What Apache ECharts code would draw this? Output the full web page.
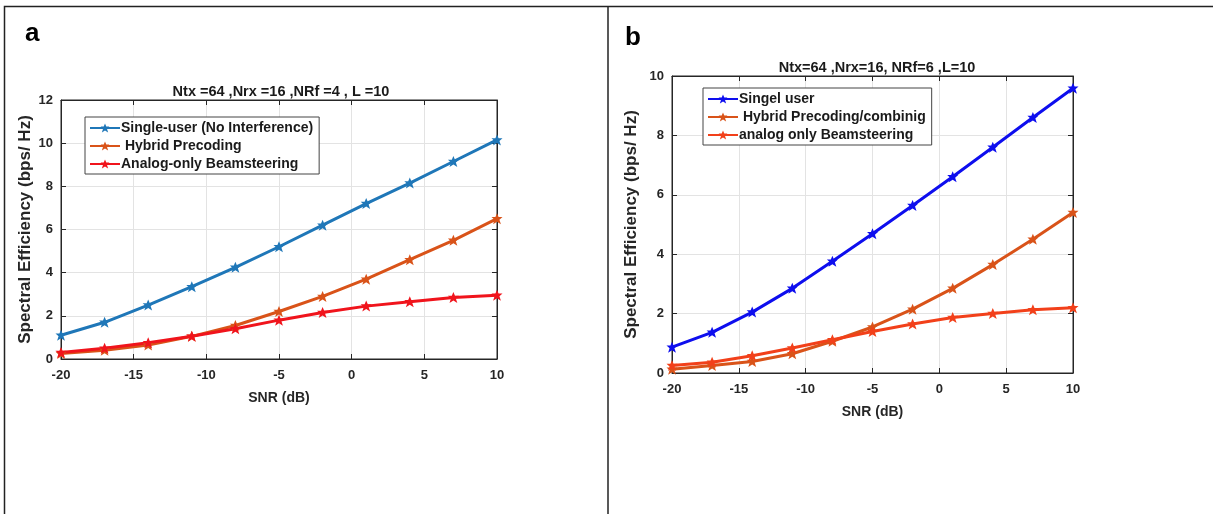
<!DOCTYPE html>
<html>
<head>
<meta charset="utf-8">
<script src="https://cdn.jsdelivr.net/npm/echarts@6/dist/echarts.min.js"></script>
<style>
  html, body { margin: 0; padding: 0; background: #fff; }
  #chart { width: 1213px; height: 514px; }
</style>
</head>
<body>
<div id="chart"></div>
<script>
// SNR points (dB)
const snr = [-20, -17, -14, -11, -8, -5, -2, 1, 4, 7, 10];

// panel a: Ntx=64, Nrx=16, NRf=4, L=10
const singleA = [1.1, 1.7, 2.5, 3.35, 4.25, 5.2, 6.2, 7.2, 8.15, 9.15, 10.15];
const hybridA = [0.25, 0.4, 0.65, 1.05, 1.55, 2.2, 2.9, 3.7, 4.6, 5.5, 6.5];
const analogA = [0.3, 0.5, 0.75, 1.05, 1.4, 1.8, 2.15, 2.45, 2.65, 2.85, 2.95];

// panel b: Ntx=64, Nrx=16, NRf=6, L=10
const singleB = [0.87, 1.37, 2.05, 2.85, 3.76, 4.69, 5.64, 6.61, 7.6, 8.6, 9.59];
const hybridB = [0.13, 0.25, 0.39, 0.65, 1.07, 1.55, 2.15, 2.85, 3.65, 4.5, 5.4];
const analogB = [0.25, 0.36, 0.58, 0.84, 1.12, 1.4, 1.65, 1.87, 2.0, 2.13, 2.2];

const namesA = ['Single-user (No Interference)', ' Hybrid Precoding', 'Analog-only Beamsteering'];
const namesB = ['Singel user', ' Hybrid Precoding/combinig', 'analog only Beamsteering'];

const font = 'Liberation Sans, Arial, sans-serif';
const star = 'path://M50,0 L63,30 L95,30 L70,52 L82,88 L50,68 L18,88 L30,52 L5,30 L37,30 Z';

function pts(ys) {
  return snr.map((x, i) => [x, ys[i]]);
}

function line(name, ys, color, idx) {
  return {
    name: name,
    type: 'line',
    xAxisIndex: idx,
    yAxisIndex: idx,
    data: pts(ys),
    symbol: star,
    symbolSize: 11,
    showSymbol: true,
    lineStyle: { color: color, width: 3 },
    itemStyle: { color: color },
    animation: false
  };
}

function xAx(idx, pos, show) {
  return {
    type: 'value', gridIndex: idx, position: pos,
    min: -20, max: 10, interval: 5,
    name: show ? 'SNR (dB)' : '',
    nameLocation: 'middle', nameGap: 32,
    nameTextStyle: { fontFamily: font, fontWeight: 'bold', fontSize: 14, color: '#262626' },
    axisLine: { show: true, onZero: false, lineStyle: { color: '#262626' } },
    axisTick: { show: true, inside: true, length: 5, lineStyle: { color: '#262626' } },
    axisLabel: { show: show, fontFamily: font, fontWeight: 'bold', fontSize: 13, color: '#262626', margin: 10 },
    splitLine: { show: show, lineStyle: { color: '#e3e3e3' } }
  };
}

function yAx(idx, pos, max, show, gap) {
  return {
    type: 'value', gridIndex: idx, position: pos,
    min: 0, max: max, interval: 2,
    name: show ? 'Spectral Efficiency (bps/ Hz)' : '',
    nameLocation: 'middle', nameGap: gap,
    nameTextStyle: { fontFamily: font, fontWeight: 'bold', fontSize: 17, color: '#262626' },
    axisLine: { show: true, onZero: false, lineStyle: { color: '#262626' } },
    axisTick: { show: true, inside: true, length: 5, lineStyle: { color: '#262626' } },
    axisLabel: { show: show, fontFamily: font, fontWeight: 'bold', fontSize: 13, color: '#262626', margin: 8 },
    splitLine: { show: show, lineStyle: { color: '#e3e3e3' } }
  };
}

function legend(names, left, top) {
  return {
    data: names,
    orient: 'vertical',
    left: left, top: top,
    itemGap: 4,
    itemWidth: 30, itemHeight: 11,
    padding: [4, 6, 3, 4],
    borderColor: '#444', borderWidth: 1,
    backgroundColor: '#fff',
    textStyle: { fontFamily: font, fontWeight: 'bold', fontSize: 14, color: '#1a1a1a', padding: [0, 0, 0, -4] }
  };
}

const chart = echarts.init(document.getElementById('chart'));
chart.setOption({
  backgroundColor: '#fff',
  title: [
    { text: 'a', left: 20, top: 16, textStyle: { fontFamily: font, fontWeight: 'bold', fontSize: 26, color: '#000' } },
    { text: 'b', left: 620, top: 20, textStyle: { fontFamily: font, fontWeight: 'bold', fontSize: 26, color: '#000' } },
    { text: 'Ntx =64 ,Nrx =16 ,NRf =4 , L =10', left: 276, top: 79, textAlign: 'center',
      textStyle: { fontFamily: font, fontWeight: 'bold', fontSize: 14.5, color: '#1a1a1a' } },
    { text: 'Ntx=64 ,Nrx=16, NRf=6 ,L=10', left: 872, top: 55, textAlign: 'center',
      textStyle: { fontFamily: font, fontWeight: 'bold', fontSize: 14.5, color: '#1a1a1a' } }
  ],
  graphic: [
    { type: 'rect', shape: { x: 4.5, y: 6.5, width: 1220, height: 520 }, style: { fill: 'none', stroke: '#222', lineWidth: 1.5 } },
    { type: 'line', shape: { x1: 608, y1: 7, x2: 608, y2: 514 }, style: { stroke: '#222', lineWidth: 1.5 } }
  ],
  grid: [
    { left: 61, top: 100, width: 436, height: 259, show: true, borderColor: '#262626', borderWidth: 1 },
    { left: 672, top: 76, width: 401, height: 297, show: true, borderColor: '#262626', borderWidth: 1 }
  ],
  xAxis: [xAx(0, 'bottom', true), xAx(1, 'bottom', true), xAx(0, 'top', false), xAx(1, 'top', false)],
  yAxis: [yAx(0, 'left', 12, true, 27), yAx(1, 'left', 10, true, 32), yAx(0, 'right', 12, false, 0), yAx(1, 'right', 10, false, 0)],
  legend: [legend(namesA, 85, 117), legend(namesB, 703, 88)],
  series: [
    line(namesA[0], singleA, '#1f77b8', 0),
    line(namesA[1], hybridA, '#d95319', 0),
    line(namesA[2], analogA, '#f0141c', 0),
    line(namesB[0], singleB, '#0e0eee', 1),
    line(namesB[1], hybridB, '#d95319', 1),
    line(namesB[2], analogB, '#f2401a', 1)
  ]
});
</script>
</body>
</html>
